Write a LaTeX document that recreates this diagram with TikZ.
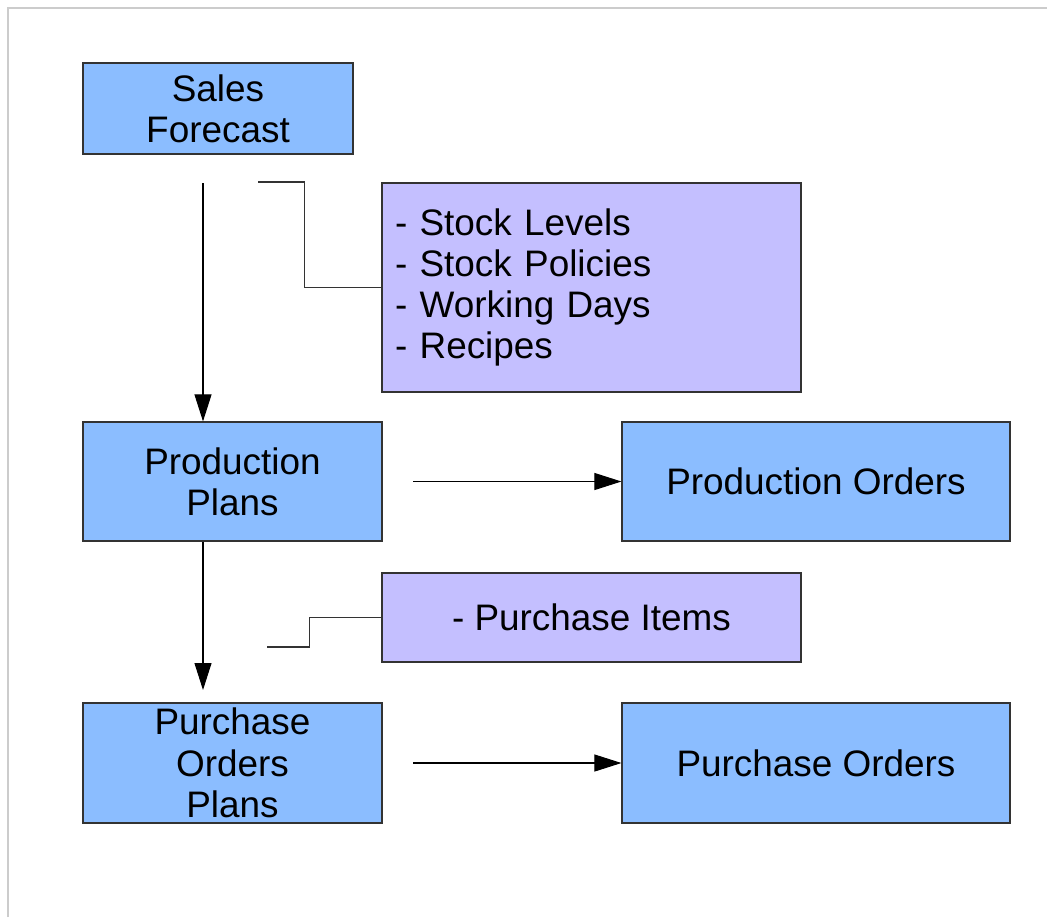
\documentclass[tikz,border=0pt]{standalone}
\usepackage{fontspec}
\setmainfont{Liberation Sans}
\usepackage{tikz}
\usetikzlibrary{arrows.meta}
\definecolor{boxblue}{RGB}{139,189,255}
\definecolor{boxlilac}{RGB}{196,191,255}
\definecolor{edgegray}{RGB}{51,51,51}
\definecolor{framegray}{RGB}{204,204,204}

\begin{document}
\begin{tikzpicture}[x=0.02cm,y=-0.02cm,
  bluebox/.style={draw=edgegray,line width=0.7pt,fill=boxblue,align=center,inner sep=0pt,
    font=\fontsize{21}{23.5}\selectfont},
  lilacbox/.style={draw=edgegray,line width=0.7pt,fill=boxlilac,inner ysep=0pt,
    font=\fontsize{21}{23.5}\selectfont},
  arr/.style={line width=0.6pt,-{Triangle[length=0.54cm,width=0.34cm]}},
  link/.style={line width=0.6pt,draw=edgegray}]
\useasboundingbox (0,0) rectangle (1047,917);
\draw[framegray,line width=0.8pt] (8,917) -- (8,8) -- (1047,8);

% boxes
\node[bluebox,minimum width=5.4cm,minimum height=1.82cm] (sales) at (218,108.5) {Sales\\Forecast};
\node[lilacbox,text width=7.86cm,inner xsep=0.26cm,align=left,minimum height=4.18cm] (stock) at (591.5,287.5)
  {- Stock Levels\\- Stock Policies\\- Working Days\\- Recipes};
\node[bluebox,minimum width=5.98cm,minimum height=2.38cm] (pplan) at (232.5,481.5) {Production\\Plans};
\node[bluebox,minimum width=7.76cm,minimum height=2.38cm] (porders) at (816,481.5) {Production Orders};
\node[lilacbox,minimum width=8.38cm,minimum height=1.78cm,align=center] (items) at (591.5,617.5) {- Purchase Items};
\node[bluebox,minimum width=5.98cm,minimum height=2.4cm] (poplan) at (232.5,763) {Purchase\\Orders\\Plans};
\node[bluebox,minimum width=7.76cm,minimum height=2.4cm] (buyorders) at (816,763) {Purchase Orders};

% free ends
\coordinate (top) at (203,183);
\coordinate (mid) at (203,690);
\coordinate (s1) at (258,182);
\coordinate (s2) at (267,647);
\coordinate (h1) at (413,481.5);
\coordinate (h2) at (413,763);

% connectors
\draw[arr] (top) -- (top |- pplan.north);
\draw[arr] (mid |- pplan.south) -- (mid);
\draw[arr] (h1) -- (porders.west);
\draw[arr] (h2) -- (buyorders.west);
\draw[link] (stock.west) -- ++(-77,0) |- (s1);
\draw[link] (items.west) -- ++(-72,0) |- (s2);
\end{tikzpicture}
\end{document}
